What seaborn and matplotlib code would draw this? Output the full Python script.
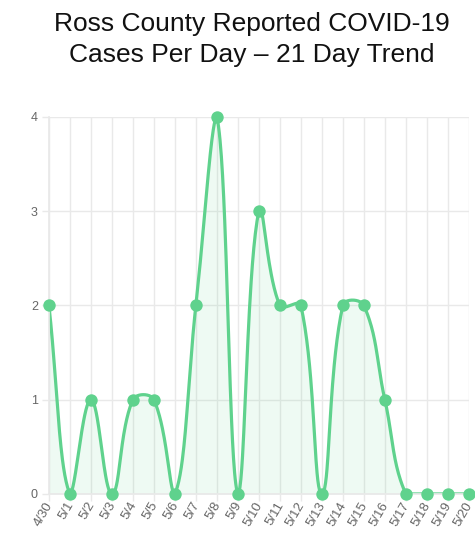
import numpy as np
import pandas as pd
import seaborn as sns
import matplotlib.pyplot as plt
from matplotlib.transforms import ScaledTranslation

# datos del grafico
fechas = ["4/30", "5/1", "5/2", "5/3", "5/4", "5/5", "5/6", "5/7", "5/8", "5/9", "5/10",
          "5/11", "5/12", "5/13", "5/14", "5/15", "5/16", "5/17", "5/18", "5/19", "5/20"]
casos = [2, 0, 1, 0, 1, 1, 0, 2, 4, 0, 3, 2, 2, 0, 2, 2, 1, 0, 0, 0, 0]
y_ticks = [0, 1, 2, 3, 4]

verde = "#5fd28d"
gris = "#e9e9e9"

sns.set_theme(style="white")
plt.rcParams['font.family'] = ['Liberation Sans', 'DejaVu Sans']

fig = plt.figure(figsize=(4.75, 5.44), dpi=100)
ax = fig.add_axes([0.103, 0.092, 0.884, 0.693])
ax.set_xlim(0, len(fechas) - 1)
ax.set_ylim(0, 4)

# curva suave tipo Chart.js (tension 0.4) en coordenadas de pantalla
x = np.arange(len(fechas))
pts = ax.transData.transform(np.column_stack([x, casos]))
x0, y0 = ax.transData.transform((0, 0))
x1, y1 = ax.transData.transform((len(fechas) - 1, 4))
t = 0.4
cps = []
for i in range(len(pts)):
    prev = pts[max(i - 1, 0)]
    cur = pts[i]
    nxt = pts[min(i + 1, len(pts) - 1)]
    d01 = np.hypot(*(cur - prev))
    d12 = np.hypot(*(nxt - cur))
    s = d01 + d12
    s01 = d01 / s if s else 0
    s12 = d12 / s if s else 0
    c1 = cur - t * s01 * (nxt - prev)
    c2 = cur + t * s12 * (nxt - prev)
    c1 = np.array([np.clip(c1[0], x0, x1), np.clip(c1[1], y0, y1)])
    c2 = np.array([np.clip(c2[0], x0, x1), np.clip(c2[1], y0, y1)])
    cps.append((c1, c2))

curva = [pts[0]]
u = np.linspace(0, 1, 40)[1:, None]
for i in range(len(pts) - 1):
    p0, p3 = pts[i], pts[i + 1]
    p1, p2 = cps[i][1], cps[i + 1][0]
    b = (1 - u) ** 3 * p0 + 3 * (1 - u) ** 2 * u * p1 + 3 * (1 - u) * u ** 2 * p2 + u ** 3 * p3
    curva.extend(b)
curva = ax.transData.inverted().transform(np.array(curva))
suave = pd.DataFrame({"x": curva[:, 0], "y": curva[:, 1]})

ax.fill_between(suave["x"], suave["y"], 0, color=verde, alpha=0.1, lw=0)
sns.lineplot(data=suave, x="x", y="y", sort=False, color=verde, lw=2.3, ax=ax)
df = pd.DataFrame({"x": x, "casos": casos})
sns.scatterplot(data=df, x="x", y="casos", color=verde, s=80, edgecolor=verde,
                linewidth=0, ax=ax, zorder=5, clip_on=False)

ax.set_xticks(x)
ax.set_xticklabels([])
# etiquetas de fecha giradas junto a cada marca
trans = ax.get_xaxis_transform() + ScaledTranslation(1 / 100, -9 / 100, fig.dpi_scale_trans)
for xi, fecha in zip(x, fechas):
    ax.text(xi, 0, fecha, transform=trans, rotation=60, ha="right", va="center",
            rotation_mode="anchor", fontsize=9.5, color="#666666")
ax.set_yticks(y_ticks)
ax.grid(True, color=gris, lw=1)
ax.tick_params(axis="both", colors=gris, labelcolor="#666666", labelsize=9,
               length=5, width=1, direction="out", pad=3, bottom=True, left=True)
for lado in ["top", "right"]:
    ax.spines[lado].set_visible(False)
for lado in ["left", "bottom"]:
    ax.spines[lado].set_color(gris)
ax.set_xlabel("")
ax.set_ylabel("")

fig.text(0.53, 0.978, "Ross County Reported COVID-19\nCases Per Day \u2013 21 Day Trend",
         ha="center", va="top", fontsize=19, color="#111111", linespacing=1.35)

fig.savefig("out.png", dpi=100)
